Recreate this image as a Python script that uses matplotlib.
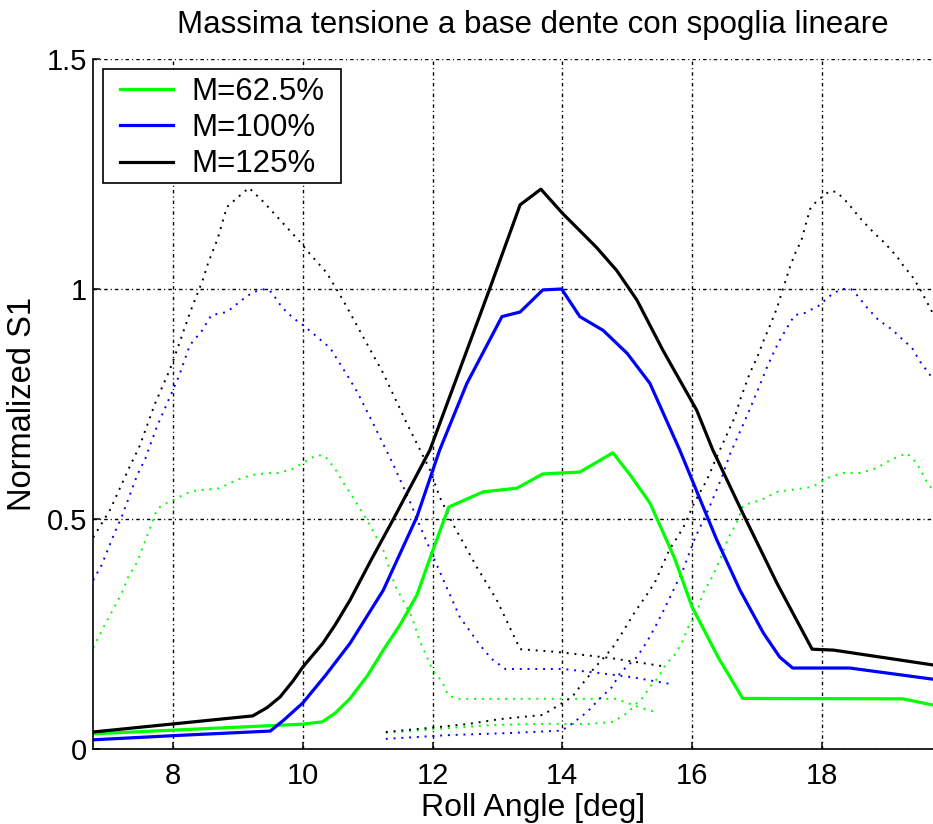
import matplotlib
matplotlib.use("Agg")
import matplotlib.pyplot as plt
from matplotlib.patches import Rectangle

plt.rcParams['font.family'] = ['Liberation Sans', 'DejaVu Sans']

# solid curves (current tooth)
x_g = [6.77, 10.0, 10.3, 10.5, 10.73, 11.0, 11.24, 11.5, 11.76, 12.0, 12.25, 12.78, 13.3, 13.7,
       14.27, 14.78, 15.05, 15.35, 15.73, 16.0, 16.4, 16.78, 19.25, 19.7]
y_g = [0.033, 0.054, 0.059, 0.078, 0.11, 0.16, 0.215, 0.27, 0.335, 0.43, 0.526, 0.559, 0.567,
       0.598, 0.602, 0.644, 0.595, 0.535, 0.415, 0.309, 0.2, 0.11, 0.109, 0.096]

x_b = [6.77, 8.0, 9.5, 9.7, 10.0, 10.35, 10.73, 11.24, 11.76, 12.11, 12.53, 13.07, 13.35, 13.7,
       13.99, 14.27, 14.63, 15.0, 15.35, 15.81, 16.38, 16.74, 17.1, 17.35, 17.55, 18.43, 19.7]
y_b = [0.02, 0.029, 0.039, 0.062, 0.1, 0.16, 0.23, 0.345, 0.505, 0.65, 0.795, 0.94, 0.95, 0.998,
       1.0, 0.94, 0.91, 0.86, 0.795, 0.65, 0.455, 0.345, 0.252, 0.2, 0.176, 0.176, 0.152]

x_k = [6.77, 9.23, 9.45, 9.65, 9.85, 10.0, 10.31, 10.5, 10.73, 11.05, 11.39, 11.96, 12.88, 13.35,
       13.67, 14.0, 14.53, 14.84, 15.15, 15.55, 16.07, 16.32, 16.78, 17.31, 17.85, 18.18, 19.7]
y_k = [0.037, 0.072, 0.09, 0.113, 0.148, 0.178, 0.23, 0.27, 0.324, 0.41, 0.498, 0.65, 1.0, 1.183,
       1.217, 1.165, 1.09, 1.04, 0.976, 0.867, 0.737, 0.65, 0.513, 0.36, 0.217, 0.215, 0.183]

# dotted curves (previous tooth)
x_g_prev = [6.77, 6.93, 7.08, 7.21, 7.31, 7.45, 7.54, 7.68, 7.75, 7.83, 8.0, 8.18, 8.31, 8.6,
            8.72, 8.98, 9.22, 9.49, 9.62, 9.85, 10.0, 10.22, 10.34, 10.49, 10.63, 10.77, 10.99,
            11.24, 11.42, 11.68, 11.81, 12.0, 12.15, 12.24, 12.38, 14.83, 15.18, 15.44]
y_g_prev = [0.22, 0.265, 0.304, 0.339, 0.374, 0.407, 0.441, 0.493, 0.52, 0.53, 0.541, 0.554,
            0.561, 0.565, 0.567, 0.585, 0.596, 0.6, 0.6, 0.609, 0.622, 0.639, 0.637, 0.611,
            0.578, 0.548, 0.498, 0.433, 0.356, 0.287, 0.233, 0.172, 0.146, 0.117, 0.109, 0.109,
            0.091, 0.08]

x_b_prev = [6.77, 6.9, 7.1, 7.21, 7.45, 7.57, 7.75, 7.92, 8.09, 8.26, 8.45, 8.59, 8.83, 9.06,
            9.23, 9.42, 9.52, 9.68, 9.85, 10.0, 10.22, 10.42, 10.7, 10.84, 11.08, 11.39, 11.66,
            11.81, 12.19, 12.42, 12.73, 12.91, 13.12, 14.01, 14.58, 15.08, 15.68]
y_b_prev = [0.367, 0.4, 0.47, 0.505, 0.596, 0.63, 0.7, 0.755, 0.81, 0.878, 0.91, 0.943, 0.95,
            0.976, 0.993, 1.0, 0.993, 0.96, 0.937, 0.922, 0.896, 0.872, 0.809, 0.776, 0.709,
            0.62, 0.535, 0.483, 0.36, 0.287, 0.226, 0.196, 0.174, 0.174, 0.165, 0.156, 0.141]

x_k_prev = [6.77, 7.03, 7.32, 7.49, 7.72, 7.95, 8.05, 8.26, 8.46, 8.54, 8.69, 8.83, 8.98, 9.17,
            9.39, 9.65, 9.93, 10.1, 10.37, 10.62, 10.93, 11.24, 11.6, 11.96, 12.11, 12.31, 12.68,
            12.99, 13.35, 13.92, 14.73, 15.55]
y_k_prev = [0.46, 0.52, 0.61, 0.66, 0.75, 0.824, 0.863, 0.948, 1.02, 1.056, 1.11, 1.178, 1.197,
            1.22, 1.19, 1.15, 1.107, 1.078, 1.035, 0.976, 0.896, 0.817, 0.709, 0.607, 0.548,
            0.49, 0.396, 0.324, 0.217, 0.211, 0.198, 0.18]

# dotted curves (next tooth)
x_g_next = [11.28, 12.2, 12.9, 13.8, 14.38, 14.78, 15.0, 15.12, 15.23, 15.35, 15.46, 15.61,
            15.71, 15.85, 15.94, 16.05, 16.17, 16.31, 16.43, 16.56, 16.69, 16.79, 17.06, 17.31,
            17.62, 17.86, 18.08, 18.33, 18.59, 18.85, 19.05, 19.31, 19.46, 19.62, 19.7]
y_g_next = [0.035, 0.045, 0.052, 0.055, 0.054, 0.059, 0.078, 0.096, 0.11, 0.135, 0.152, 0.187,
            0.2, 0.233, 0.265, 0.287, 0.339, 0.374, 0.411, 0.459, 0.493, 0.53, 0.541, 0.559,
            0.565, 0.57, 0.589, 0.6, 0.6, 0.611, 0.628, 0.643, 0.622, 0.58, 0.565]

x_b_next = [11.28, 12.22, 13.24, 13.99, 14.12, 14.38, 14.58, 14.77, 14.89, 15.15, 15.3, 15.43,
            15.55, 15.66, 15.86, 16.04, 16.25, 16.46, 16.59, 16.84, 17.0, 17.15, 17.26, 17.33,
            17.46, 17.58, 17.74, 17.86, 17.97, 18.08, 18.18, 18.32, 18.45, 18.54, 18.7, 18.87,
            19.09, 19.2, 19.39, 19.52, 19.7]
y_b_next = [0.022, 0.03, 0.035, 0.04, 0.052, 0.08, 0.11, 0.135, 0.165, 0.2, 0.232, 0.265,
            0.298, 0.33, 0.389, 0.457, 0.52, 0.591, 0.643, 0.722, 0.776, 0.828, 0.863, 0.883,
            0.915, 0.943, 0.948, 0.957, 0.965, 0.98, 0.991, 1.0, 1.0, 0.987, 0.959, 0.933,
            0.911, 0.896, 0.872, 0.841, 0.807]

x_k_next = [11.28, 11.96, 12.53, 13.04, 13.7, 13.92, 14.15, 14.27, 14.4, 14.47, 14.77, 14.92,
            15.12, 15.3, 15.43, 15.65, 15.86, 16.04, 16.23, 16.38, 16.66, 16.74, 16.89, 17.0,
            17.1, 17.2, 17.31, 17.4, 17.51, 17.61, 17.68, 17.75, 17.82, 17.92, 18.12, 18.23,
            18.4, 18.59, 18.79, 18.97, 19.16, 19.25, 19.41, 19.52, 19.66, 19.7]
y_k_next = [0.037, 0.046, 0.054, 0.065, 0.074, 0.093, 0.113, 0.135, 0.157, 0.172, 0.219, 0.252,
            0.298, 0.335, 0.363, 0.433, 0.48, 0.537, 0.585, 0.635, 0.722, 0.759, 0.817, 0.85,
            0.887, 0.92, 0.959, 1.0, 1.048, 1.085, 1.103, 1.139, 1.174, 1.191, 1.213, 1.211,
            1.187, 1.154, 1.124, 1.1, 1.07, 1.052, 1.024, 0.998, 0.961, 0.95]

labels = ['M=62.5%', 'M=100%', 'M=125%']
colors = ['#00ff00', '#0000ff', '#000000']

W, H = 933, 824
fig = plt.figure(figsize=(W / 100, H / 100), dpi=100)
ax = fig.add_axes([93 / W, 1 - 749 / H, 880 / W, 690 / H])

dot = (0, (1, 3))
for xs, ys, c in [(x_g_prev, y_g_prev, colors[0]), (x_b_prev, y_b_prev, colors[1]),
                  (x_k_prev, y_k_prev, colors[2]), (x_g_next, y_g_next, colors[0]),
                  (x_b_next, y_b_next, colors[1]), (x_k_next, y_k_next, colors[2])]:
    ax.plot(xs, ys, color=c, lw=1.4, linestyle=dot)

for xs, ys, c, lab in [(x_g, y_g, colors[0], labels[0]), (x_b, y_b, colors[1], labels[1]),
                       (x_k, y_k, colors[2], labels[2])]:
    ax.plot(xs, ys, color=c, lw=2.3, label=lab)

ax.set_xlim(6.767, 20.33)
ax.set_ylim(0, 1.5)
ax.set_xticks([8, 10, 12, 14, 16, 18])
ax.set_yticks([0, 0.5, 1, 1.5])
ax.set_yticklabels(['0', '0.5', '1', '1.5'])
ax.grid(True, color='black', lw=1.0, linestyle=(0, (2.5, 2.2, 0.8, 2.2)))
ax.tick_params(direction='in', length=5, width=1.1, labelsize=21)
ax.tick_params(axis='x', pad=9)
ax.tick_params(axis='y', pad=4.5)
for s in ['top', 'right']:
    ax.spines[s].set_visible(False)
for s in ['left', 'bottom']:
    ax.spines[s].set_linewidth(1.2)

ax.set_title('Massima tensione a base dente con spoglia lineare', fontsize=22.5, pad=19)
ax.set_xlabel('Roll Angle [deg]', fontsize=23)
ax.set_ylabel('Normalized S1', fontsize=23.5)
ax.xaxis.set_label_coords(0.5, -0.064)
ax.yaxis.set_label_coords(-0.063, 0.5)

# legend entries without frame, frame drawn as a box behind them
leg = ax.legend(loc='upper left', bbox_to_anchor=(120 / W, 1 - 77 / H),
                bbox_transform=fig.transFigure, borderaxespad=0, borderpad=0, fontsize=22.5,
                handlelength=1.7, handletextpad=0.6, labelspacing=0.2, frameon=False)
box = Rectangle((103 / W, 1 - 183 / H), 238 / W, 114 / H, transform=fig.transFigure,
                facecolor='white', edgecolor='black', lw=1.2, zorder=4.5, clip_on=False)
ax.add_patch(box)

fig.savefig('out.png', dpi=100)
